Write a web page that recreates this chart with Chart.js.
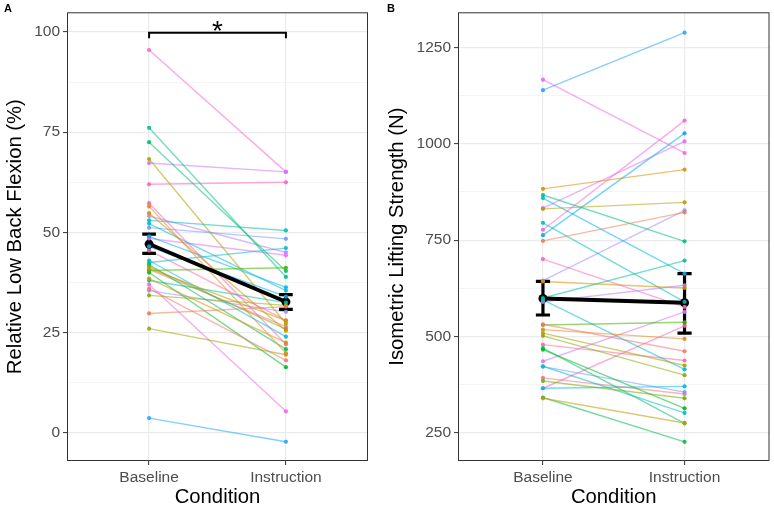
<!DOCTYPE html>
<html>
<head>
<meta charset="utf-8">
<script src="https://cdn.jsdelivr.net/npm/chart.js@4/dist/chart.umd.min.js"></script>
<style>
  body { margin: 0; background: #fff; }
  #wrap { position: relative; width: 774px; height: 508px; }
  canvas { position: absolute; top: 0; }
</style>
</head>
<body>
<div id="wrap">
  <canvas id="chartA" width="384" height="508" style="left:0"></canvas>
  <canvas id="chartB" width="390" height="508" style="left:384px"></canvas>
</div>
<script>
// datos
const conditions = ["Baseline", "Instruction"];

// A: flexión lumbar relativa (%) por sujeto
const flexBaseline = [36.0, 29.8, 56.5, 54.8, 38.5, 41.0, 68.3, 26.0, 34.3, 41.5, 40.5, 40.0, 42.0, 72.5, 76.1, 38.0, 53.0,
  42.5, 52.2, 43.0, 49.0, 46.5, 3.7, 51.2, 35.5, 54.1, 67.3, 48.5, 37.0, 95.5, 62.0, 57.3, 45.5, 40.8];
const flexInstruction = [18.1, 31.5, 19.9, 25.5, 22.5, 28.0, 27.3, 19.5, 31.8, 25.9, 41.2, 16.4, 20.9, 40.4, 38.9, 32.5, 50.5,
  46.1, 35.5, 24.0, 36.3, 34.0, -2.2, 48.4, 30.2, 45.0, 65.1, 44.3, 5.4, 65.1, 62.5, 22.1, 28.1, 26.5];
const flexMean = [47.1, 32.7];
const flexLow = [44.8, 30.8];
const flexHigh = [49.6, 34.5];

// B: fuerza isométrica (N) por sujeto
const strBaseline = [532, 748, 518, 883, 643, 340, 831, 509, 502, 385, 530, 466, 342, 470, 867, 600, 795,
  423, 595, 366, 859, 763, 1139, 422, 645, 590, 436, 833, 1166, 777, 701, 366, 479, 393];
const strInstruction = [462, 822, 494, 933, 626, 276, 848, 425, 400, 340, 537, 314, 227, 275, 747, 697, 590,
  302, 415, 371, 663, 1027, 1288, 356, 827, 633, 564, 1006, 976, 1060, 577, 528, 438, 351];
const strMean = [598.7, 587.7];
const strLow = [556, 509];
const strHigh = [643, 663];

const flexTicks = [0, 12.5, 25, 37.5, 50, 62.5, 75, 87.5, 100];
const strTicks = [250, 375, 500, 625, 750, 875, 1000, 1125, 1250];

// paleta hue de ggplot (hcl c=100, l=65)
function hcl(h, c, l, a) {
  const hr = h * Math.PI / 180;
  const U = c * Math.cos(hr), V = c * Math.sin(hr);
  const Xn = 95.047, Yn = 100, Zn = 108.883;
  const un = 4 * Xn / (Xn + 15 * Yn + 3 * Zn), vn = 9 * Yn / (Xn + 15 * Yn + 3 * Zn);
  const Y = Yn * Math.pow((l + 16) / 116, 3);
  const u = U / (13 * l) + un, v = V / (13 * l) + vn;
  const X = 9 * Y * u / (4 * v);
  const Z = (12 - 3 * u - 20 * v) * Y / (4 * v);
  const x = X / 100, y = Y / 100, z = Z / 100;
  const lin = [3.2406 * x - 1.5372 * y - 0.4986 * z, -0.9689 * x + 1.8758 * y + 0.0415 * z, 0.0557 * x - 0.2040 * y + 1.0570 * z];
  const rgb = lin.map((t) => {
    const g = t <= 0.0031308 ? 12.92 * t : 1.055 * Math.pow(t, 1 / 2.4) - 0.055;
    return Math.round(Math.min(1, Math.max(0, g)) * 255);
  });
  return `rgba(${rgb[0]}, ${rgb[1]}, ${rgb[2]}, ${a})`;
}
const hue = (i, n, a) => hcl(15 + 360 * i / n, 100, 65, a);

// texto extra: borde, letra del panel y asterisco
const extras = {
  id: "extras",
  afterDraw(chart, args, opts) {
    const { ctx, chartArea } = chart;
    ctx.save();
    ctx.strokeStyle = "#333333";
    ctx.lineWidth = 1;
    ctx.strokeRect(chartArea.left + 0.5, chartArea.top + 0.5, chartArea.width - 1, chartArea.height - 1);
    ctx.fillStyle = "#000";
    ctx.font = "bold 11px 'Liberation Sans', Arial, sans-serif";
    ctx.textAlign = "left";
    ctx.textBaseline = "top";
    ctx.fillText(opts.label, opts.labelX, 3);
    if (opts.star) {
      const x = chart.scales.x.getPixelForValue(1.5);
      const y = chart.scales.y.getPixelForValue(opts.star);
      ctx.font = "28px 'Liberation Sans', Arial, sans-serif";
      ctx.textAlign = "center";
      ctx.fillText("*", x, y - 14);
    }
    ctx.restore();
  },
};

function buildChart(id, cfg) {
  const n = cfg.base.length;
  const datasets = [];
  // puntos de cada sujeto (encima)
  for (let i = 0; i < n; i++) {
    datasets.push({
      data: [{ x: 1, y: cfg.base[i] }, { x: 2, y: cfg.instr[i] }],
      showLine: false,
      pointRadius: 2.1,
      pointBorderWidth: 0,
      pointBackgroundColor: hue(i, n, 0.9),
      order: 0,
    });
  }
  // media con error
  datasets.push({
    data: [{ x: 1, y: cfg.mean[0] }, { x: 2, y: cfg.mean[1] }],
    showLine: true,
    borderColor: "#000",
    borderWidth: 3.8,
    pointRadius: 4.5,
    pointBackgroundColor: "#000",
    pointBorderWidth: 0,
    order: 1,
  });
  [1, 2].forEach((c, k) => {
    const segs = [
      [{ x: c, y: cfg.low[k] }, { x: c, y: cfg.high[k] }],
      [{ x: c - 0.05, y: cfg.low[k] }, { x: c + 0.05, y: cfg.low[k] }],
      [{ x: c - 0.05, y: cfg.high[k] }, { x: c + 0.05, y: cfg.high[k] }],
    ];
    segs.forEach((s) => datasets.push({
      data: s, showLine: true, borderColor: "#000", borderWidth: 3.2, pointRadius: 0, order: 1,
    }));
  });
  if (cfg.bracket) {
    const b = cfg.bracket;
    datasets.push({
      data: [{ x: 1, y: b[1] }, { x: 1, y: b[0] }, { x: 2, y: b[0] }, { x: 2, y: b[1] }],
      showLine: true, borderColor: "#000", borderWidth: 2, pointRadius: 0, order: 1,
    });
  }
  // líneas de cada sujeto (debajo)
  for (let i = 0; i < n; i++) {
    datasets.push({
      data: [{ x: 1, y: cfg.base[i] }, { x: 2, y: cfg.instr[i] }],
      showLine: true,
      borderColor: hue(i, n, 0.55),
      borderWidth: 1.4,
      pointRadius: 0,
      order: 2,
    });
  }

  const tickFont = { family: "'Liberation Sans', Arial, sans-serif", size: 15.5 };
  const titleFont = { family: "'Liberation Sans', Arial, sans-serif", size: 20.3, lineHeight: 1.0 };

  new Chart(document.getElementById(id), {
    type: "scatter",
    data: { datasets },
    options: {
      responsive: false,
      animation: false,
      events: [],
      layout: { padding: { top: 7, right: cfg.padRight, bottom: 0, left: 0 } },
      plugins: {
        legend: { display: false },
        tooltip: { enabled: false },
        extras: { label: cfg.label, labelX: cfg.labelX, star: cfg.star },
      },
      scales: {
        x: {
          type: "linear",
          min: 0.4,
          max: 2.6,
          afterBuildTicks: (s) => { s.ticks = [{ value: 1 }, { value: 2 }]; },
          afterFit: (s) => { s.height = 47; },
          border: { display: false },
          grid: { color: "#ebebeb", lineWidth: 1.2, tickLength: 4, tickColor: "#333333", tickWidth: 1 },
          ticks: { callback: (v) => conditions[v - 1], color: "#4d4d4d", font: tickFont, padding: 3, maxRotation: 0 },
          title: { display: true, text: "Condition", color: "#000", font: titleFont, padding: 0 },
        },
        y: {
          min: cfg.yMin,
          max: cfg.yMax,
          afterBuildTicks: (s) => { s.ticks = cfg.ticks.map((v) => ({ value: v })); },
          afterFit: (s) => { s.width = cfg.axisWidth; },
          border: { display: false },
          grid: {
            color: (c) => (c.tick && c.tick.value % cfg.major === 0 ? "#ebebeb" : "#f3f3f3"),
            lineWidth: (c) => (c.tick && c.tick.value % cfg.major === 0 ? 1.2 : 0.8),
            tickLength: 4,
            tickColor: (c) => (c.tick && c.tick.value % cfg.major === 0 ? "#333333" : "rgba(0,0,0,0)"),
            tickWidth: 1,
          },
          ticks: {
            callback: (v) => (v % cfg.major === 0 ? v : ""),
            color: "#4d4d4d",
            font: tickFont,
            padding: 3,
          },
          title: { display: true, text: cfg.yTitle, color: "#000", font: titleFont, padding: { top: cfg.titlePad, bottom: 0 } },
        },
      },
    },
    plugins: [extras],
  });
}

buildChart("chartA", {
  base: flexBaseline, instr: flexInstruction,
  mean: flexMean, low: flexLow, high: flexHigh,
  yMin: -7, yMax: 104.9, ticks: flexTicks, major: 25,
  yTitle: "Relative Low Back Flexion (%)",
  axisWidth: 67, padRight: 16, titlePad: 5, label: "A", labelX: 4,
  bracket: [99.8, 98.4], star: 100,
});

buildChart("chartB", {
  base: strBaseline, instr: strInstruction,
  mean: strMean, low: strLow, high: strHigh,
  yMin: 177.4, yMax: 1340.8, ticks: strTicks, major: 250,
  yTitle: "Isometric Lifting Strength (N)",
  axisWidth: 74, padRight: 3, titlePad: 3, label: "B", labelX: 3,
});
</script>
</body>
</html>
